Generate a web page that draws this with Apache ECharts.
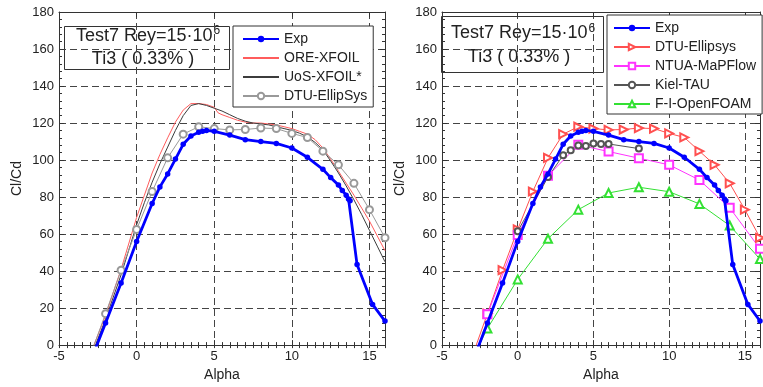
<!DOCTYPE html>
<html>
<head>
<meta charset="utf-8">
<script src="https://cdn.jsdelivr.net/npm/echarts@6/dist/echarts.min.js"></script>
<style>
  html, body { margin: 0; padding: 0; background: #fff; }
  #chart { width: 763px; height: 387px; }
</style>
</head>
<body>
<div id="chart"></div>
<script>
// ---- Measured lift-to-drag ratio (both panels) ----
const expAlpha = [-3, -2, -1, 0, 1, 1.5, 2, 2.5, 3, 3.5, 4, 4.25, 4.5, 5, 6, 7, 8, 9, 10, 11, 12, 12.5, 13, 13.25, 13.5, 13.65, 13.75, 14.2, 15.2, 16];
const expClCd  = [-9.5, 12, 33.5, 56, 76.5, 85.5, 92.5, 100.5, 108.5, 113, 115, 115.5, 116, 115.5, 113.5, 111, 110, 109, 106.5, 101.5, 95, 90.5, 86.5, 83.5, 81, 79, 78, 43.5, 22, 13];

// ---- Left panel: panel-code results ----
const oreAlpha = [-2.75, -2, -1, 0, 0.5, 1, 1.5, 2, 2.5, 3, 3.5, 4, 4.5, 5, 5.25, 5.5, 6, 6.5, 7, 7.5, 8, 8.5, 9, 9.5, 10, 10.5, 11, 11.5, 12, 12.5, 13, 13.5, 14, 14.5, 15, 15.5, 16];
const oreClCd  = [0, 16, 41, 69, 81, 93, 103, 112, 120.5, 127, 130.5, 130.5, 130, 128.5, 125.5, 124.5, 123, 121.5, 120.5, 120, 120, 119.5, 119, 118, 117, 115.5, 114, 111, 106.5, 100.5, 94, 87.5, 81, 74, 67, 59, 51];

const uosAlpha = [-2.65, -2, -1, 0, 0.5, 1, 1.5, 2, 2.5, 3, 3.5, 4, 4.5, 5, 5.5, 6, 6.5, 7, 7.5, 8, 8.5, 9, 9.5, 10, 10.5, 11, 11.5, 12, 12.5, 13, 13.5, 14, 14.5, 15, 15.5, 16];
const uosClCd  = [0, 14, 38, 65, 77, 88, 98, 107, 116, 124, 129.5, 130.5, 129.5, 128, 126.5, 124.5, 122.5, 121, 120, 119.5, 119, 118, 117, 116, 114.5, 112.5, 109.5, 105.5, 99.5, 93, 86, 78.5, 70.5, 62, 53.5, 45];

// ---- DTU EllipSys CFD (same run shown in both panels) ----
const dtuAlpha = [-3, -2, -1, 0, 1, 2, 3, 4, 5, 6, 7, 8, 9, 10, 11, 12, 13, 14, 15, 16];
const dtuClCd  = [-6, 17, 40.5, 62.5, 83, 101.2, 114, 118, 117, 116.3, 116.5, 117.3, 117, 114.4, 112.2, 104.8, 97.4, 87.4, 73.2, 58];

// ---- Right panel: other CFD codes ----
const ntuaAlpha = [-2, 0, 2, 4, 6, 8, 10, 12, 14, 16];
const ntuaClCd  = [16.7, 59.5, 91.5, 108.2, 104.6, 101, 97.4, 89.2, 74.2, 52];

const kielAlpha = [0, 2, 3, 3.5, 4, 4.5, 5, 5.5, 6, 8];
const kielClCd  = [61.5, 90.8, 102.6, 105.3, 107.8, 107.6, 109, 108.7, 108.7, 106.2];

const foamAlpha = [-3, -2, 0, 2, 4, 6, 8, 10, 12, 14, 16];
const foamClCd  = [-7, 9, 35.5, 57.5, 73.2, 82.2, 85.3, 82.9, 76.3, 64.6, 46.5];

// ---- Axis ticks ----
const xLabelTicks = [-5, 0, 5, 10, 15];
const xRange = [-5, 16];
const yRange = [0, 180];

const FONT = '"Liberation Sans", Arial, Helvetica, sans-serif';
const AX = '#333';

function pairs(a, v) { return a.map((x, i) => [x, v[i]]); }

function xAxesFor(gi) {
  const base = { gridIndex: gi, type: 'value', min: xRange[0], max: xRange[1] };
  return [
    Object.assign({}, base, {
      position: 'bottom', interval: 5,
      axisLine: { onZero: false, lineStyle: { color: AX, width: 1 } },
      axisTick: { inside: true, length: 5, lineStyle: { color: AX } },
      axisLabel: { formatter: v => xLabelTicks.includes(v) ? String(v) : '', color: '#222', fontSize: 13, fontFamily: FONT, margin: 5 },
      splitLine: { show: true, lineStyle: { type: [7, 4], color: '#444', width: 1 } },
      name: 'Alpha', nameLocation: 'middle', nameGap: 22,
      nameTextStyle: { color: '#222', fontSize: 14, fontFamily: FONT }
    }),
    Object.assign({}, base, {
      position: 'bottom', interval: 0.5,
      axisLine: { show: false },
      axisTick: { inside: true, length: 3, lineStyle: { color: AX } },
      axisLabel: { show: false }, splitLine: { show: false }
    }),
    Object.assign({}, base, {
      position: 'top', interval: 5,
      axisLine: { onZero: false, lineStyle: { color: AX, width: 1 } },
      axisTick: { inside: true, length: 5, lineStyle: { color: AX } },
      axisLabel: { show: false }, splitLine: { show: false }
    }),
    Object.assign({}, base, {
      position: 'top', interval: 0.5,
      axisLine: { show: false },
      axisTick: { inside: true, length: 3, lineStyle: { color: AX } },
      axisLabel: { show: false }, splitLine: { show: false }
    })
  ];
}

function yAxesFor(gi) {
  const base = { gridIndex: gi, type: 'value', min: yRange[0], max: yRange[1], interval: 20 };
  return [
    Object.assign({}, base, {
      position: 'left',
      axisLine: { onZero: false, lineStyle: { color: AX, width: 1 } },
      axisTick: { inside: true, length: 5, lineStyle: { color: AX } },
      minorTick: { show: true, splitNumber: 5, length: 3, lineStyle: { color: AX } },
      axisLabel: { color: '#222', fontSize: 13, fontFamily: FONT, margin: 5 },
      splitLine: { show: true, lineStyle: { type: [7, 4], color: '#444', width: 1 } },
      name: 'Cl/Cd', nameLocation: 'middle', nameGap: 35,
      nameTextStyle: { color: '#222', fontSize: 14, fontFamily: FONT }
    }),
    Object.assign({}, base, {
      position: 'right',
      axisLine: { onZero: false, lineStyle: { color: AX, width: 1 } },
      axisTick: { inside: true, length: 5, lineStyle: { color: AX } },
      minorTick: { show: true, splitNumber: 5, length: 3, lineStyle: { color: AX } },
      axisLabel: { show: false }, splitLine: { show: false }
    })
  ];
}

function lineSeries(name, data, xi, yi, opts) {
  return Object.assign({
    name: name, type: 'line', data: data,
    xAxisIndex: xi, yAxisIndex: yi,
    clip: true, smooth: false
  }, opts);
}

// hollow-marker series share one stroke width
function hollow(color, symbol, size, extra) {
  return Object.assign({
    color: color, symbol: symbol, symbolSize: size,
    lineStyle: { color: color, width: 1 },
    itemStyle: { color: color, borderColor: color, borderWidth: 1 },
    z: 4
  }, extra || {});
}

const expStyle = {
  color: '#0000ff', symbol: 'circle', symbolSize: 5.5,
  lineStyle: { color: '#0000ff', width: 2.8 }, itemStyle: { color: '#0000ff' }, z: 10
};

const series = [
  // left panel
  lineSeries('ORE-XFOIL', pairs(oreAlpha, oreClCd), 0, 0, { color: '#ff5c5c', symbol: 'none', lineStyle: { color: '#ff5c5c', width: 1 }, z: 3 }),
  lineSeries('UoS-XFOIL*', pairs(uosAlpha, uosClCd), 0, 0, { color: '#3c3c3c', symbol: 'none', lineStyle: { color: '#3c3c3c', width: 1 }, z: 3 }),
  lineSeries('DTU-EllipSys', pairs(dtuAlpha, dtuClCd), 0, 0, hollow('#999', 'emptyCircle', 7)),
  lineSeries('Exp', pairs(expAlpha, expClCd), 0, 0, expStyle),
  // right panel
  lineSeries('DTU-Ellipsys', pairs(dtuAlpha, dtuClCd), 4, 2, hollow('#ff5050', 'emptyTriangle', 8, { symbolRotate: -90 })),
  lineSeries('NTUA-MaPFlow', pairs(ntuaAlpha, ntuaClCd), 4, 2, hollow('#ff33ff', 'emptyRect', 8)),
  lineSeries('Kiel-TAU', pairs(kielAlpha, kielClCd), 4, 2, hollow('#555', 'emptyCircle', 6)),
  lineSeries('F-I-OpenFOAM', pairs(foamAlpha, foamClCd), 4, 2, hollow('#33e033', 'emptyTriangle', 8)),
  lineSeries('Exp', pairs(expAlpha, expClCd), 4, 2, expStyle)
];

const legendCommon = {
  orient: 'vertical', itemWidth: 36, itemHeight: 8, itemGap: 5,
  backgroundColor: '#fff', borderColor: '#333', borderWidth: 1, borderRadius: 0,
  selectedMode: false, z: 20,
  textStyle: { color: '#222', fontSize: 14, fontFamily: FONT, lineHeight: 14 }
};

// plain line entries for the two panel codes (no marker in the key)
const lineOnly = name => ({ name: name, itemStyle: { opacity: 0 } });

function titleBox(x, y, w, h, line1X, line1Y, supX, supY, line2X, line2Y) {
  return {
    type: 'group', z: 30,
    children: [
      { type: 'rect', shape: { x: x + 0.5, y: y + 0.5, width: w, height: h }, style: { fill: '#fff', stroke: '#333', lineWidth: 1 } },
      { type: 'text', x: line1X, y: line1Y, style: { text: 'Test7 Rey=15·10', font: '18px ' + FONT, fill: '#222', align: 'left', verticalAlign: 'middle', textAlign: 'left', textVerticalAlign: 'middle' } },
      { type: 'text', x: supX, y: supY, style: { text: '6', font: '12px ' + FONT, fill: '#222', align: 'left', verticalAlign: 'middle', textAlign: 'left', textVerticalAlign: 'middle' } },
      { type: 'text', x: line2X, y: line2Y, style: { text: 'Ti3 ( 0.33% )', font: '18px ' + FONT, fill: '#222', align: 'center', verticalAlign: 'middle', textAlign: 'center', textVerticalAlign: 'middle' } }
    ]
  };
}

const option = {
  animation: false,
  backgroundColor: '#fff',
  grid: [
    { left: 59, top: 12, width: 326, height: 335 },
    { left: 442, top: 12, width: 326, height: 335 }
  ],
  xAxis: xAxesFor(0).concat(xAxesFor(1)),
  yAxis: yAxesFor(0).concat(yAxesFor(1)),
  legend: [
    Object.assign({}, legendCommon, { left: 233, top: 26, padding: [6, 6, 4, 9], data: ['Exp', lineOnly('ORE-XFOIL'), lineOnly('UoS-XFOIL*'), 'DTU-EllipSys'] }),
    Object.assign({}, legendCommon, { left: 607, top: 15, padding: [6, 6, 3, 6], data: ['Exp', 'DTU-Ellipsys', 'NTUA-MaPFlow', 'Kiel-TAU', 'F-I-OpenFOAM'] })
  ],
  graphic: [
    titleBox(64, 26, 165, 43, 76, 36, 213.5, 31, 143, 59),
    titleBox(441, 16, 162, 56, 451, 33.5, 588.5, 29, 519, 57.5)
  ],
  series: series
};

const chart = echarts.init(document.getElementById('chart'), null, { renderer: 'canvas' });
chart.setOption(option);
</script>
</body>
</html>
